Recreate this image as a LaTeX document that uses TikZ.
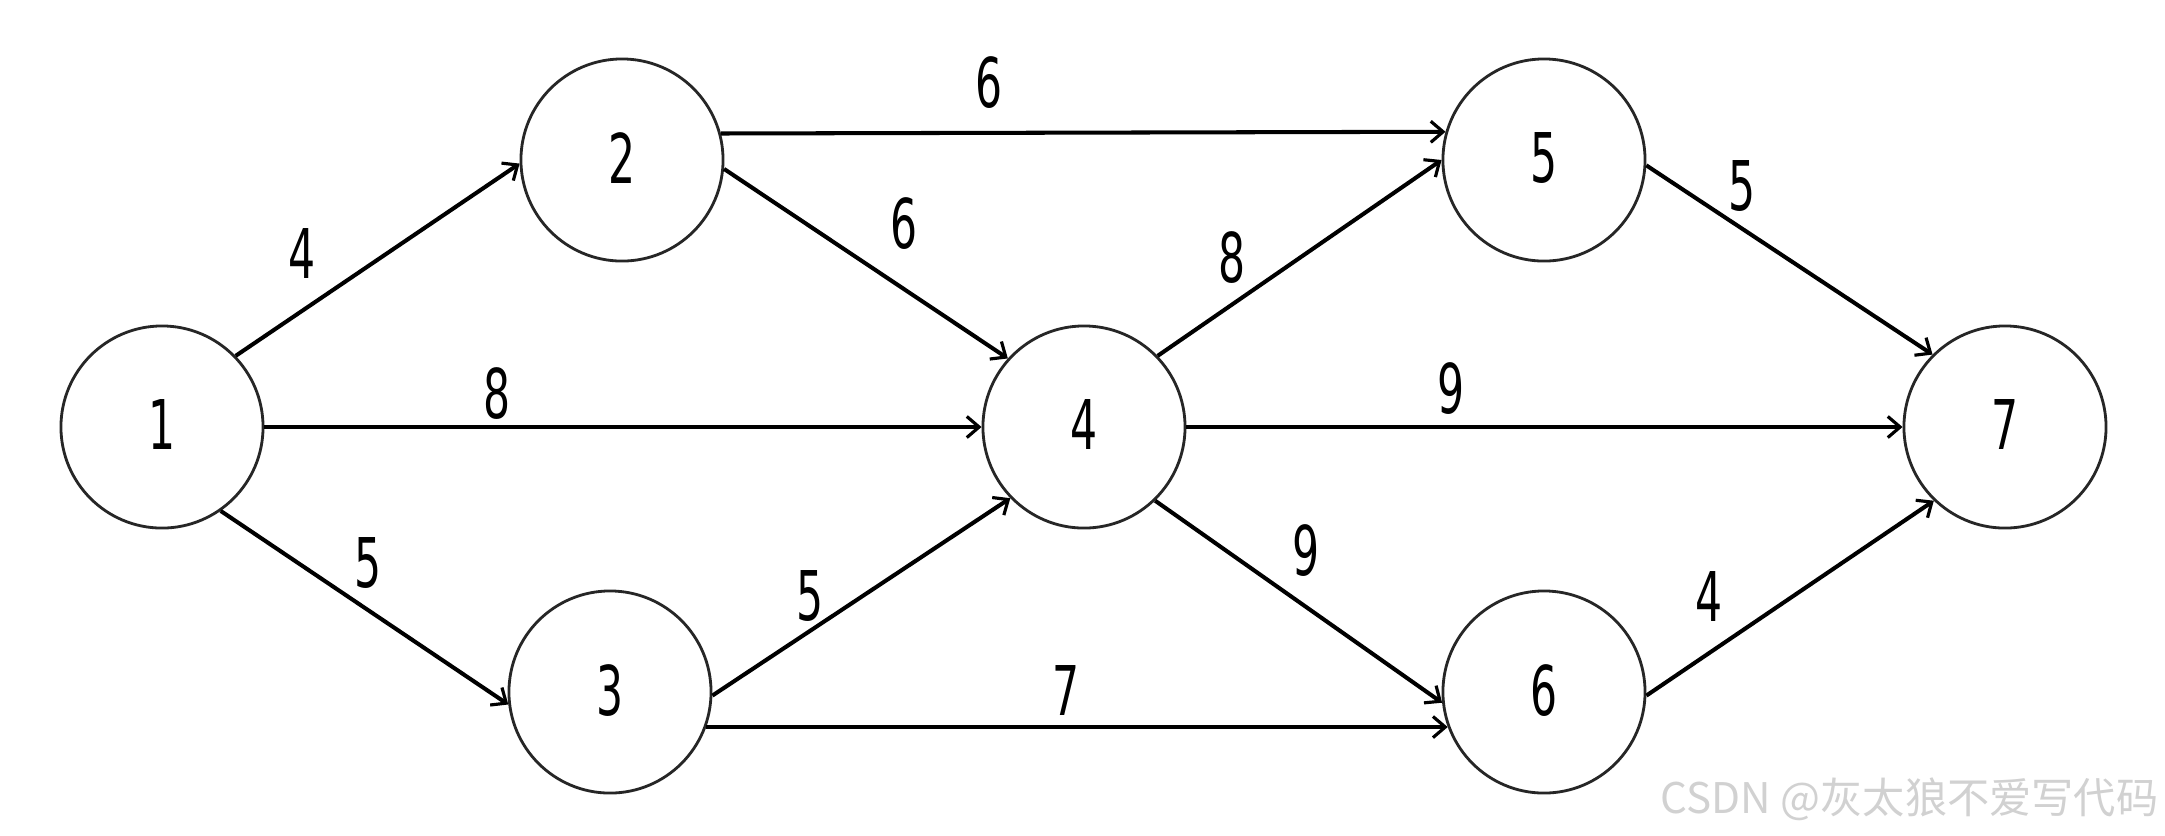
\documentclass[tikz,border=0pt]{standalone}
\usepackage{fontspec}
\setmainfont{DejaVu Sans}[FakeStretch=0.62]
\newfontfamily\cjk{Noto Sans CJK SC}
\usetikzlibrary{arrows.meta}
\begin{document}
\begin{tikzpicture}[x=0.01cm,y=-0.01cm,
  vtx/.style={circle,draw=black!85,line width=0.8pt,minimum size=2.02cm,inner sep=0pt,
    font=\fontsize{19.5}{20}\selectfont},
  wt/.style={inner sep=0pt,font=\fontsize{19.5}{20}\selectfont},
  arc/.style={draw=black,line width=1.15pt,-{Straight Barb[length=3.5pt,width=6pt,line width=0.9pt]}}]
\useasboundingbox[fill=white] (0,0) rectangle (2165,835);
\node[vtx] (n1) at (162,427) {\raisebox{1.2pt}{1}};
\node[vtx] (n2) at (622,160) {\raisebox{1.2pt}{2}};
\node[vtx] (n3) at (610,692) {\raisebox{1.2pt}{3}};
\node[vtx] (n4) at (1084,427) {\raisebox{1.2pt}{4}};
\node[vtx] (n5) at (1544,160) {\raisebox{1.2pt}{5}};
\node[vtx] (n6) at (1544,692) {\raisebox{1.2pt}{6}};
\node[vtx] (n7) at (2005,427) {\raisebox{1.2pt}{7}};
\draw[arc] (n1.44) -- (n2.182);
\draw[arc] (n2.15.5) -- (n5.164.5);
\draw[arc] (n2.-5) -- (n4.138);
\draw[arc] (n1.east) -- (n4.west);
\draw[arc] (n1.-55) -- (n3.187);
\draw[arc] (n3.-2) -- (n4.224);
\draw[arc] (n3.-20.3) -- (n6.200.3);
\draw[arc] (n4.44) -- (n5.180);
\draw[arc] (n4.east) -- (n7.west);
\draw[arc] (n4.-46) -- (n6.186);
\draw[arc] (n5.-3) -- (n7.135);
\draw[arc] (n6.-2) -- (n7.226);
\node[wt] (w12) at (302,253) {4};
\node[wt] (w14) at (497,394) {8};
\node[wt] (w13) at (368,563) {5};
\node[wt] (w25) at (989,83) {6};
\node[wt] (w24) at (904,224) {6};
\node[wt] (w34) at (810,596) {5};
\node[wt] (w36) at (1066,690) {7};
\node[wt] (w45) at (1232,258) {8};
\node[wt] (w57) at (1742,186) {5};
\node[wt] (w47) at (1451,389) {9};
\node[wt] (w46) at (1306,551) {9};
\node[wt] (w67) at (1709,596) {4};
\node[inner sep=0pt,anchor=east,text=black!18,font=\cjk\fontsize{12}{13}\selectfont] (wm) at (2159,799) {CSDN @灰太狼不爱写代码};
\end{tikzpicture}
\end{document}
